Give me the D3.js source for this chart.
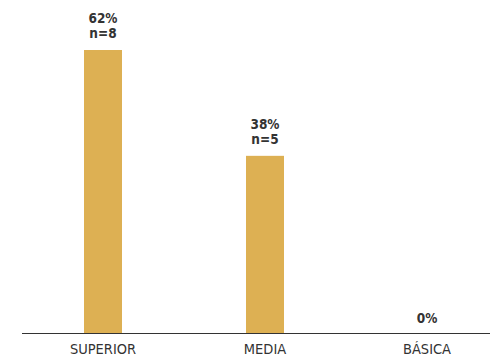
<!DOCTYPE html>
<html>
<head>
<meta charset="utf-8">
<script src="https://cdn.jsdelivr.net/npm/d3@7"></script>
<style>
  body { margin: 0; background: #fff; }
  text { font-family: "DejaVu Sans Condensed", "DejaVu Sans", sans-serif; fill: #333; }
</style>
</head>
<body>
<div id="chart"></div>
<script>
// data
let categories = ["SUPERIOR", "MEDIA", "BÁSICA"];
let percents = [61.5, 38.5, 0];
let pctLabels = ["62%", "38%", "0%"];
let counts = ["n=8", "n=5", ""];

let width = 490, height = 358;
let baseline = 333;

let svg = d3.select("#chart").append("svg")
    .attr("width", width)
    .attr("height", height);

let x = d3.scalePoint()
    .domain(categories)
    .range([103, 427]);

let y = d3.scaleLinear()
    .domain([0, 61.5])
    .range([baseline, 50]);

let barW = 38;

let rows = categories.map((c, i) => ({cat: c, val: percents[i], pct: pctLabels[i], n: counts[i]}));

// bars
svg.selectAll(".bar")
    .data(rows)
    .enter()
    .append("rect")
    .attr("class", "bar")
    .attr("x", d => x(d.cat) - barW / 2)
    .attr("y", d => y(d.val))
    .attr("width", barW)
    .attr("height", d => baseline - y(d.val))
    .attr("fill", "#ddb053");

// baseline
svg.append("line")
    .attr("x1", 22).attr("x2", width)
    .attr("y1", baseline + 0.5).attr("y2", baseline + 0.5)
    .attr("stroke", "#333")
    .attr("stroke-width", 1);

// value labels
let lbl = svg.selectAll(".val")
    .data(rows)
    .enter()
    .append("text")
    .attr("class", "val")
    .attr("text-anchor", "middle")
    .style("font-weight", "bold")
    .style("font-size", "13.5px");

lbl.append("tspan")
    .attr("x", d => x(d.cat))
    .attr("y", d => y(d.val) - (d.n ? 27 : 10))
    .text(d => d.pct);

lbl.filter(d => d.n).append("tspan")
    .attr("x", d => x(d.cat))
    .attr("y", d => y(d.val) - 12)
    .text(d => d.n);

// category labels
svg.selectAll(".cat")
    .data(categories)
    .enter()
    .append("text")
    .attr("class", "cat")
    .attr("x", d => x(d))
    .attr("y", baseline + 21)
    .attr("text-anchor", "middle")
    .style("font-size", "14.5px")
    .text(d => d);
</script>
</body>
</html>
